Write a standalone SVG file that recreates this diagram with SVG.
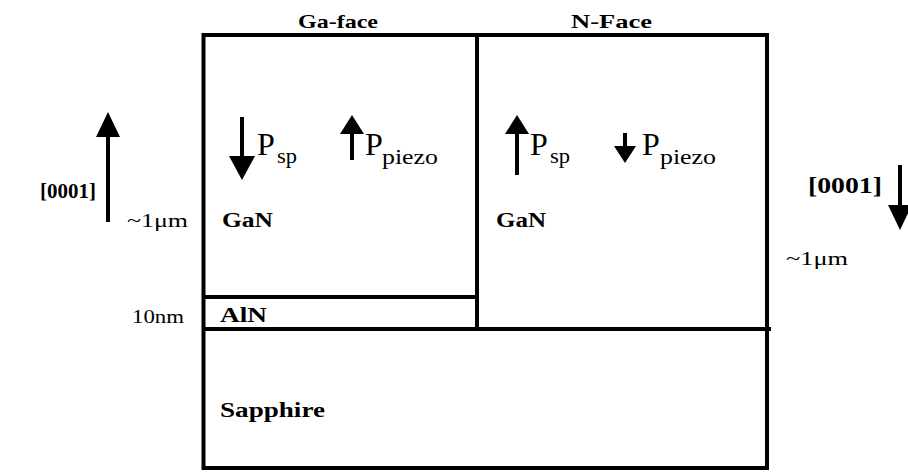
<svg xmlns="http://www.w3.org/2000/svg" width="908" height="473" viewBox="0 0 908 473">
<style>
.ln{stroke:#000;stroke-width:4;fill:none}
.sh{stroke:#000;stroke-width:4}
.hd{fill:#000}
.b{font-weight:bold;fill:#000}
.r{fill:#000}
</style>
<rect width="908" height="473" fill="#fff"/>
<g id="layers">
<rect class="ln" x="203.5" y="35" width="563.5" height="433"/>
<line class="ln" x1="477" y1="35" x2="477" y2="329"/>
<line class="ln" x1="203" y1="297" x2="477" y2="297"/>
<line class="ln" x1="203" y1="329" x2="771" y2="329"/>
</g>
<g id="labels" font-family="Liberation Serif, serif">
<text class="b" x="298" y="28" font-size="19" textLength="80" lengthAdjust="spacingAndGlyphs">Ga-face</text>
<text class="b" x="571" y="28" font-size="19" textLength="81" lengthAdjust="spacingAndGlyphs">N-Face</text>
<text class="b" x="40" y="198" font-size="22" textLength="56" lengthAdjust="spacingAndGlyphs">[0001]</text>
<text class="b" x="808" y="193" font-size="23" textLength="74" lengthAdjust="spacingAndGlyphs">[0001]</text>
<text class="r" x="127" y="227" font-size="18" textLength="61" lengthAdjust="spacingAndGlyphs">~1μm</text>
<text class="r" x="786" y="265" font-size="18" textLength="62" lengthAdjust="spacingAndGlyphs">~1μm</text>
<text class="r" x="132" y="323" font-size="18" textLength="52" lengthAdjust="spacingAndGlyphs">10nm</text>
<text class="b" x="222" y="227" font-size="20" textLength="51" lengthAdjust="spacingAndGlyphs">GaN</text>
<text class="b" x="496" y="227" font-size="20" textLength="50" lengthAdjust="spacingAndGlyphs">GaN</text>
<text class="b" x="220" y="322" font-size="20" textLength="47" lengthAdjust="spacingAndGlyphs">AlN</text>
<text class="b" x="220" y="417" font-size="20" textLength="105" lengthAdjust="spacingAndGlyphs">Sapphire</text>
</g>
<g id="polarization" font-family="Liberation Serif, serif">
<text class="r" x="257" y="155" font-size="32">P</text>
<text class="r" x="277" y="163" font-size="22" textLength="20" lengthAdjust="spacingAndGlyphs">sp</text>
<text class="r" x="365" y="155" font-size="32">P</text>
<text class="r" x="382" y="164" font-size="22" textLength="56" lengthAdjust="spacingAndGlyphs">piezo</text>
<text class="r" x="530" y="155" font-size="32">P</text>
<text class="r" x="550" y="163" font-size="22" textLength="20" lengthAdjust="spacingAndGlyphs">sp</text>
<text class="r" x="642" y="155" font-size="32">P</text>
<text class="r" x="660" y="164" font-size="22" textLength="56" lengthAdjust="spacingAndGlyphs">piezo</text>
</g>
<g id="arrows">
<line class="sh" x1="108" y1="222" x2="108" y2="135"/>
<polygon class="hd" points="96,137 108,112 120,137"/>
<line class="sh" x1="900" y1="165" x2="900" y2="207"/>
<polygon class="hd" points="888,205 900,230 912,205"/>
<line class="sh" x1="242" y1="117" x2="242" y2="158"/>
<polygon class="hd" points="229,156 242,180 255,156"/>
<line class="sh" x1="352" y1="160" x2="352" y2="132"/>
<polygon class="hd" points="340,134 352,115 364,134"/>
<line class="sh" x1="517" y1="175" x2="517" y2="132"/>
<polygon class="hd" points="505,134 517,115 529,134"/>
<line class="sh" x1="625" y1="133" x2="625" y2="148"/>
<polygon class="hd" points="614,146 625,163 636,146"/>
</g>
</svg>
